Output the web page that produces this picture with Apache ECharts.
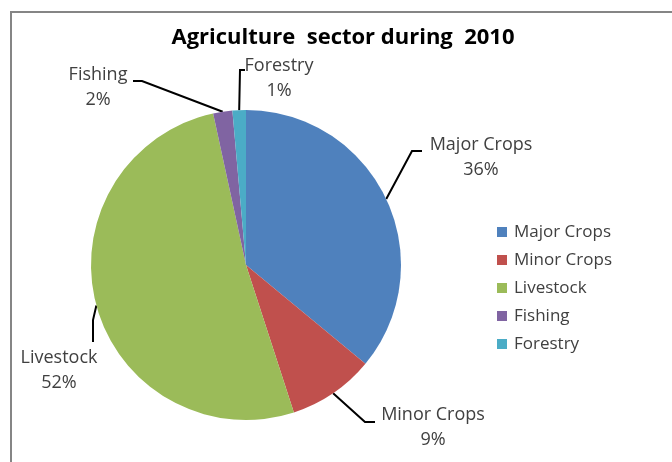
<!DOCTYPE html>
<html><head><meta charset="utf-8">
<script src="https://cdn.jsdelivr.net/npm/echarts@6/dist/echarts.min.js"></script>
<style>html,body{margin:0;padding:0;background:#fff}#c{width:672px;height:462px}</style>
</head><body><div id="c"></div>
<script>
const categories = ['Major Crops', 'Minor Crops', 'Livestock', 'Fishing', 'Forestry'];
const values = [36.0, 9.0, 51.6, 2.0, 1.4];
const colors = ['#4F81BD', '#C0504D', '#9BBB59', '#8064A2', '#4BACC6'];
const title = 'Agriculture  sector during  2010';

// label placement (layout only)
const labelPos = [
  {x: 481, y: 157, elbow: [412, 151], end: [422, 151]},
  {x: 433, y: 427, elbow: [365, 422], end: [375, 422]},
  {x: 59,  y: 370, elbow: [93, 320],  end: [93, 342]},
  {x: 98,  y: 87,  elbow: [142, 81],  end: [133, 81]},
  {x: 279, y: 78,  elbow: [240, 70],  end: [245, 70]}
];

const total = values.reduce((a, b) => a + b, 0);
const chart = echarts.init(document.getElementById('c'), null, {renderer: 'canvas'});
const font = '"Open Sans", Lato, sans-serif';
chart.setOption({
  animation: false,
  graphic: [
    {type: 'polyline', shape: {points: [[11, 470], [11, 12], [690, 12]]},
     style: {stroke: '#858585', lineWidth: 2, fill: null}, silent: true}
  ],
  title: {
    text: title, left: 343, top: 27, textAlign: 'center', padding: 0,
    textStyle: {fontFamily: font, fontWeight: 'bold', fontSize: 22, color: '#000'}
  },
  legend: {
    orient: 'vertical', left: 497, top: 222, padding: 0,
    itemWidth: 10, itemHeight: 10, itemGap: 8,
    icon: 'rect',
    textStyle: {fontFamily: font, fontSize: 17, lineHeight: 20, color: '#404040', padding: [0, 0, 0, 2]},
    data: categories
  },
  series: [{
    type: 'pie',
    center: [246, 265],
    radius: 155,
    startAngle: 90,
    clockwise: true,
    data: categories.map((n, i) => ({name: n, value: values[i], itemStyle: {color: colors[i]}})),
    label: {
      show: true, position: 'outside', overflow: 'none',
      formatter: p => p.name + '\n' + Math.round(p.value / total * 100) + '%',
      fontFamily: font, fontSize: 18, color: '#404040', lineHeight: 25, align: 'center'
    },
    labelLine: {show: true, length: 5, length2: 5, lineStyle: {color: '#000', width: 2}},
    labelLayout: function (params) {
      const lp = labelPos[params.dataIndex];
      const start = params.labelLinePoints ? params.labelLinePoints[0] : lp.elbow;
      return {
        x: lp.x, y: lp.y, align: 'center', verticalAlign: 'middle', width: 140,
        labelLinePoints: [start, lp.elbow, lp.end]
      };
    },
    emphasis: {disabled: true}
  }]
});
</script></body></html>
